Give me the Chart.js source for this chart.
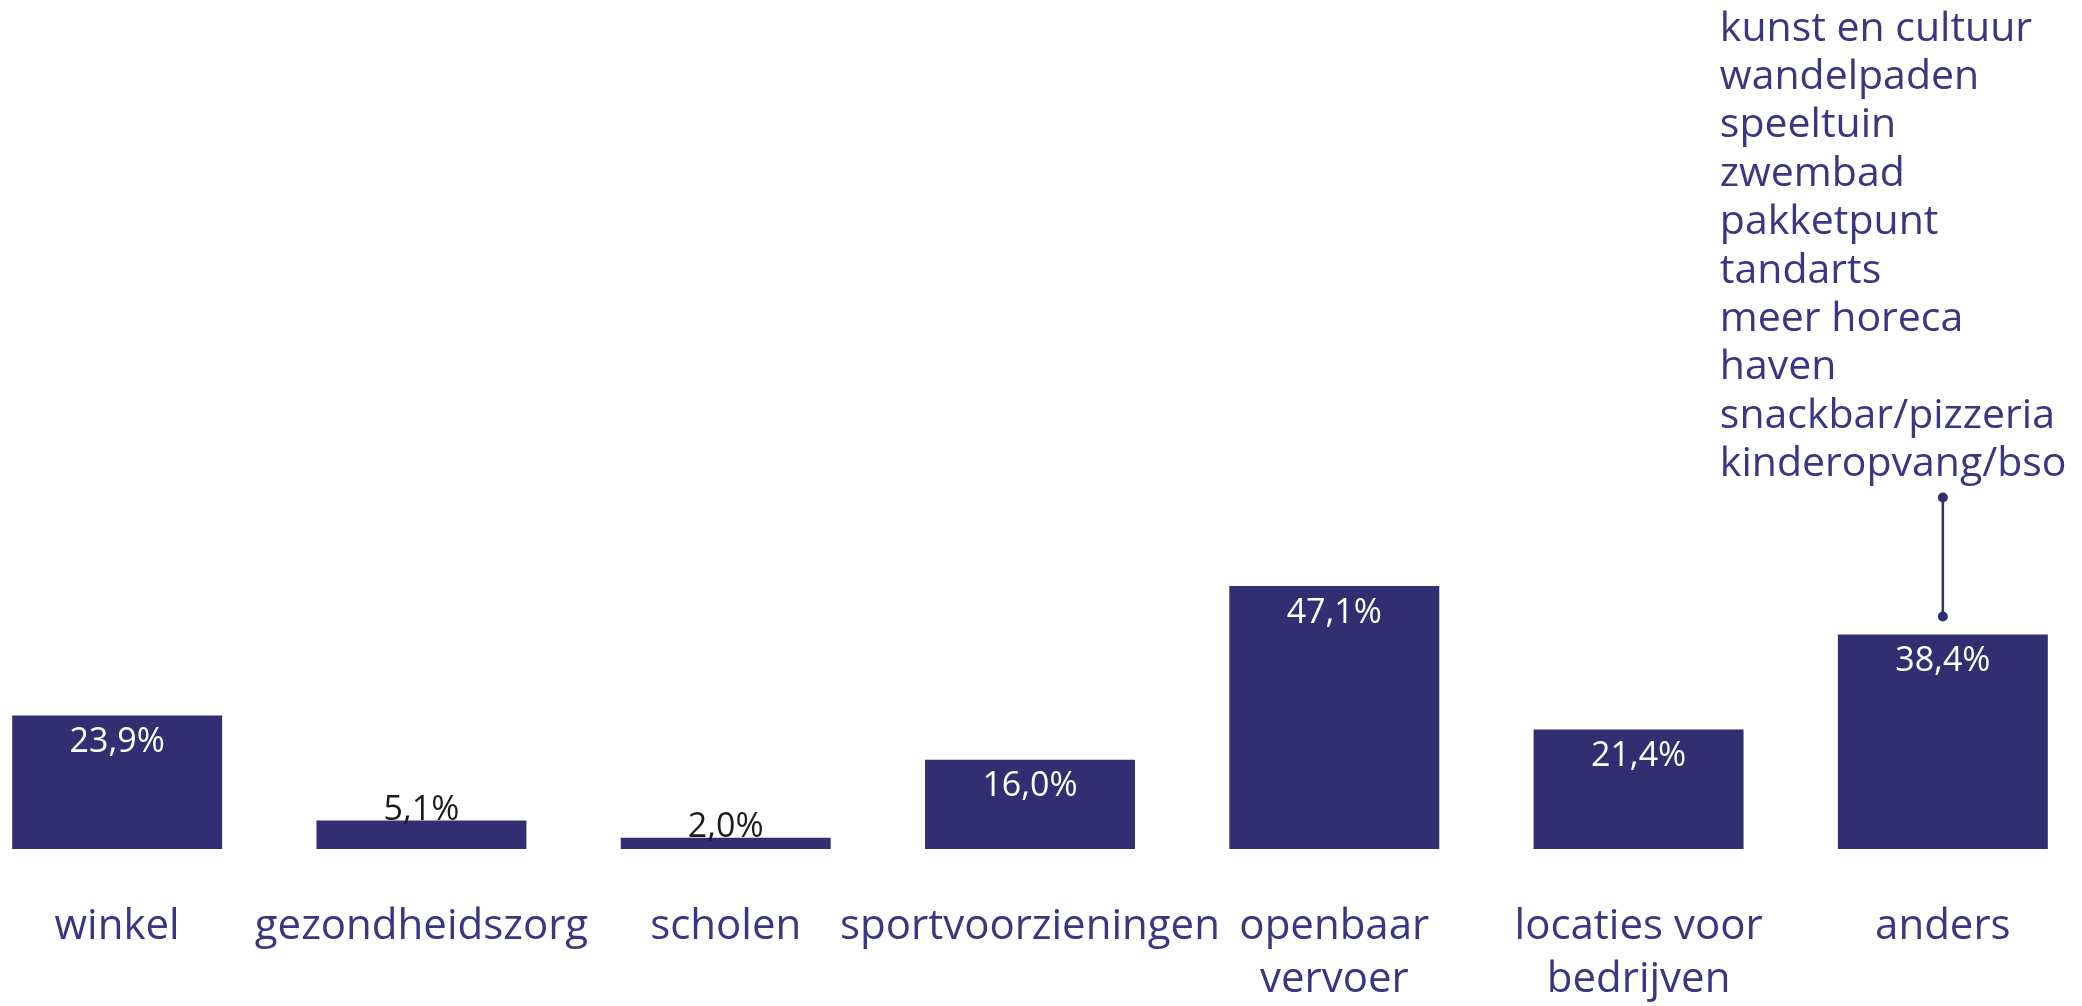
<!DOCTYPE html>
<html>
<head>
<meta charset="utf-8">
<script src="https://cdn.jsdelivr.net/npm/chart.js@4/dist/chart.umd.min.js"></script>
<style>
  html, body { margin: 0; padding: 0; background: #ffffff; overflow: hidden; }
  #wrap { position: absolute; left: -35px; top: 0; width: 2130px; height: 1006px; }
</style>
</head>
<body>
<div id="wrap"><canvas id="c"></canvas></div>
<script>
const categories = [
  ['winkel'],
  ['gezondheidszorg'],
  ['scholen'],
  ['sportvoorzieningen'],
  ['openbaar', 'vervoer'],
  ['locaties voor', 'bedrijven'],
  ['anders']
];
const values = [23.9, 5.1, 2.0, 16.0, 47.1, 21.4, 38.4];
const andersItems = [
  'kunst en cultuur',
  'wandelpaden',
  'speeltuin',
  'zwembad',
  'pakketpunt',
  'tandarts',
  'meer horeca',
  'haven',
  'snackbar/pizzeria',
  'kinderopvang/bso'
];
const annotatedIndex = 6;

const BAR = '#332d72';
const TEXT = '#3b3583';
const FONT = '"Open Sans", sans-serif';

function fmt(v) { return v.toFixed(1).replace('.', ',') + '%'; }

const labelPlugin = {
  id: 'labels',
  afterDatasetsDraw(chart) {
    const ctx = chart.ctx;
    const meta = chart.getDatasetMeta(0);
    ctx.save();
    ctx.font = '34px ' + FONT;
    ctx.textAlign = 'center';
    meta.data.forEach((bar, i) => {
      const v = values[i];
      if (v < 10) {
        ctx.fillStyle = '#1c1c1c';
        ctx.textBaseline = 'alphabetic';
        ctx.fillText(fmt(v), bar.x, bar.y - 1);
      } else {
        ctx.fillStyle = '#ffffff';
        ctx.textBaseline = 'middle';
        ctx.fillText(fmt(v), bar.x, bar.y + 27);
      }
    });
    // annotation for "anders"
    const b = meta.data[annotatedIndex];
    const yBottomDot = b.y - 18;
    const yTopDot = b.y - 137;
    ctx.strokeStyle = BAR;
    ctx.fillStyle = BAR;
    ctx.lineWidth = 2.5;
    ctx.beginPath();
    ctx.moveTo(b.x, yTopDot);
    ctx.lineTo(b.x, yBottomDot);
    ctx.stroke();
    [yTopDot, yBottomDot].forEach(y => {
      ctx.beginPath();
      ctx.arc(b.x, y, 5, 0, Math.PI * 2);
      ctx.fill();
    });
    ctx.font = '41px ' + FONT;
    ctx.textAlign = 'left';
    ctx.textBaseline = 'middle';
    ctx.fillStyle = TEXT;
    const lineH = 48.4;
    const lastY = yTopDot - 33;
    const n = andersItems.length;
    andersItems.forEach((t, k) => {
      ctx.fillText(t, b.x - 223, lastY - (n - 1 - k) * lineH);
    });
    ctx.restore();
  }
};

new Chart(document.getElementById('c'), {
  type: 'bar',
  data: {
    labels: categories,
    datasets: [{
      data: values,
      backgroundColor: BAR,
      borderWidth: 0,
      categoryPercentage: 1.0,
      barPercentage: 0.69
    }]
  },
  options: {
    responsive: true,
    maintainAspectRatio: false,
    animation: false,
    layout: { padding: 0 },
    plugins: { legend: { display: false }, tooltip: { enabled: false } },
    scales: {
      x: {
        grid: { display: false, drawTicks: false },
        border: { display: false },
        ticks: {
          color: TEXT,
          font: { family: FONT, size: 42, lineHeight: 1.26 },
          padding: 52,
          maxRotation: 0,
          autoSkip: false
        },
        afterFit(axis) { axis.height = 157; }
      },
      y: {
        display: false,
        min: 0,
        max: 152
      }
    }
  },
  plugins: [labelPlugin]
});
</script>
</body>
</html>
